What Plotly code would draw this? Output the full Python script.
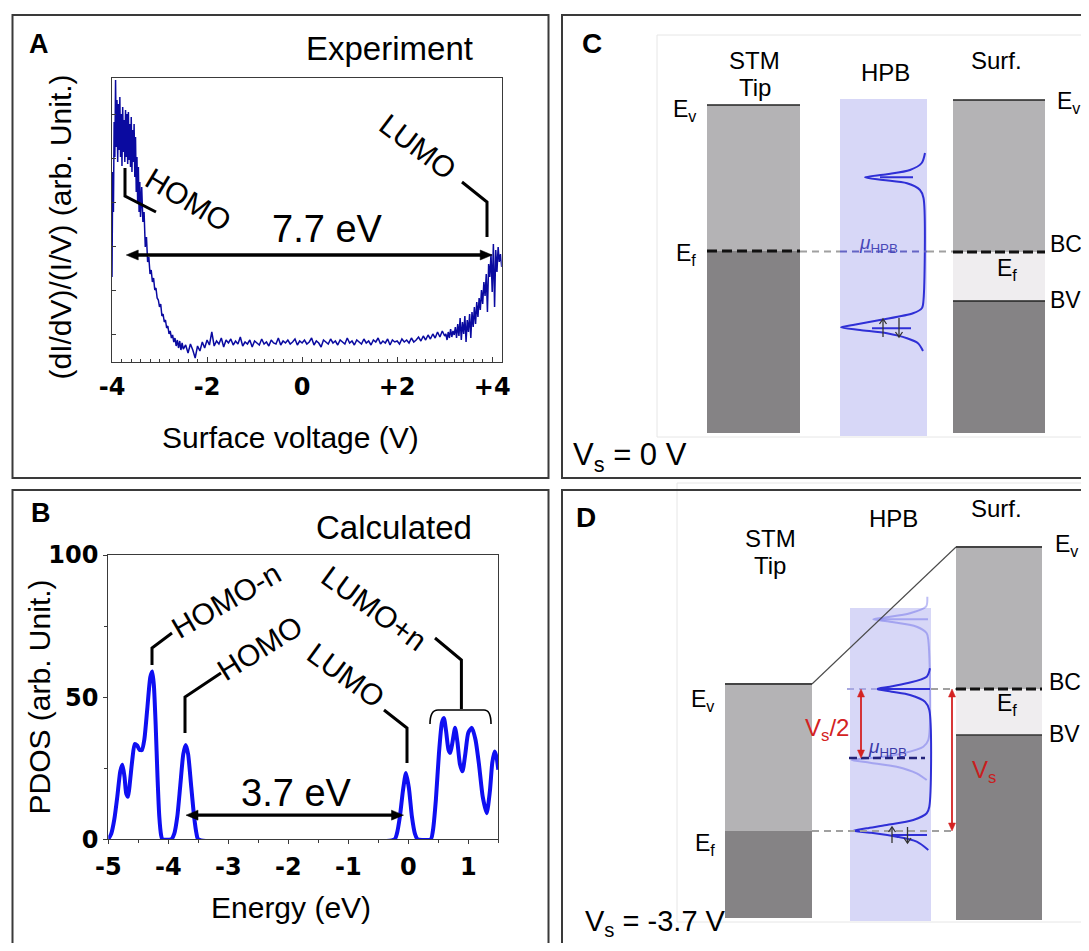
import plotly.graph_objects as go

FONT = "Liberation Sans, Arial, Helvetica, sans-serif"
TICKFONT = "DejaVu Sans, Verdana, sans-serif"
REF_W, REF_H = 1089, 951          # reference picture size (px)
OFF = 8                            # default page margin of the browser body
W, H = REF_W - 2 * OFF, REF_H - 2 * OFF   # figure size so that the page fits exactly

# ------------------------------------------------------------------ Panel A (experiment)
A_V1 = [-4.000, -3.985, -3.970, -3.955, -3.940, -3.925, -3.910, -3.895, -3.880, -3.865,
        -3.850, -3.835, -3.820, -3.805, -3.790, -3.775, -3.760, -3.745, -3.730, -3.715,
        -3.700, -3.685, -3.670, -3.655, -3.640, -3.625, -3.610, -3.595, -3.580, -3.565,
        -3.550, -3.535, -3.520, -3.505, -3.490, -3.475, -3.460, -3.445, -3.430, -3.415, -3.400]
A_H1 = [85, 190, 150, 240, 205, 282, 215, 262, 200, 258,
        212, 265, 205, 248, 196, 255, 210, 242, 200, 252,
        205, 248, 198, 250, 202, 238, 195, 245, 190, 232,
        200, 238, 185, 225, 170, 205, 160, 195, 150, 180, 145]
A_V2 = [-3.375, -3.350, -3.325, -3.300, -3.275, -3.250, -3.225, -3.200, -3.175, -3.150,
        -3.125, -3.100, -3.075, -3.050, -3.025, -3.000, -2.975, -2.950, -2.925, -2.900,
        -2.875, -2.850, -2.825, -2.800, -2.775, -2.750, -2.725, -2.700, -2.675, -2.650,
        -2.625, -2.600, -2.575, -2.550, -2.525, -2.500]
A_H2 = [175, 140, 150, 115, 125, 100, 105, 88, 92, 80,
        84, 72, 74, 64, 62, 55, 58, 46, 48, 40,
        42, 34, 36, 28, 31, 24, 27, 20, 24, 16,
        22, 14, 21, 12, 19, 13]
A_V3 = [-2.45, -2.40, -2.35, -2.30, -2.25, -2.20, -2.15, -2.10, -2.05, -2.00,
        -1.95, -1.90, -1.85, -1.80, -1.75, -1.70, -1.65, -1.60, -1.55, -1.50,
        -1.45, -1.40, -1.35, -1.30, -1.25, -1.20, -1.15, -1.10, -1.05, -1.00,
        -0.95, -0.90, -0.85, -0.80, -0.75, -0.70, -0.65, -0.60, -0.55, -0.50,
        -0.45, -0.40, -0.35, -0.30, -0.25, -0.20, -0.15, -0.10, -0.05, 0.00,
        0.05, 0.10, 0.15, 0.20, 0.25, 0.30, 0.35, 0.40, 0.45, 0.50,
        0.55, 0.60, 0.65, 0.70, 0.75, 0.80, 0.85, 0.90, 0.95, 1.00,
        1.05, 1.10, 1.15, 1.20, 1.25, 1.30, 1.35, 1.40, 1.45, 1.50,
        1.55, 1.60, 1.65, 1.70, 1.75, 1.80, 1.85, 1.90, 1.95, 2.00,
        2.05, 2.10, 2.15, 2.20, 2.25, 2.30, 2.35, 2.40, 2.45, 2.50,
        2.55, 2.60, 2.65, 2.70, 2.75, 2.80, 2.85, 2.90, 2.95, 3.00]
A_H3 = [17, 9, 18, 12, 4, 16, 11, 20, 14, 22,
        17, 30, 16, 21, 18, 24, 15, 22, 19, 23,
        17, 21, 18, 25, 16, 20, 18, 22, 15, 21,
        19, 17, 23, 18, 20, 16, 22, 19, 18, 24,
        17, 21, 19, 22, 18, 20, 23, 17, 21, 19,
        22, 18, 20, 24, 17, 21, 19, 15, 22, 20,
        18, 23, 19, 21, 17, 22, 20, 18, 24, 19,
        21, 17, 22, 20, 18, 23, 19, 21, 17, 22,
        20, 24, 18, 21, 19, 23, 17, 22, 20, 21,
        18, 23, 20, 22, 19, 24, 20, 22, 25, 21,
        26, 22, 27, 23, 28, 24, 30, 25, 31, 26]
A_V4 = [3.025, 3.050, 3.075, 3.100, 3.125, 3.150, 3.175, 3.200, 3.225, 3.250,
        3.275, 3.300, 3.325, 3.350, 3.375, 3.400, 3.425, 3.450, 3.475, 3.500,
        3.525, 3.550, 3.575, 3.600, 3.625, 3.650, 3.675, 3.700, 3.725, 3.750,
        3.775, 3.800, 3.825, 3.850, 3.875, 3.900, 3.925, 3.950, 3.975, 4.000,
        4.025, 4.050, 4.075, 4.100, 4.125, 4.150, 4.175, 4.200]
A_H4 = [28, 22, 30, 24, 33, 25, 31, 27, 35, 24,
        38, 26, 44, 22, 40, 28, 46, 20, 42, 30,
        48, 24, 50, 35, 55, 38, 60, 45, 64, 52,
        72, 58, 80, 66, 88, 50, 98, 85, 108, 70,
        118, 55, 112, 90, 115, 100, 108, 95]
A_V = A_V1 + A_V2 + A_V3 + A_V4
A_H = A_H1 + A_H2 + A_H3 + A_H4

A_XTICKS = [-4, -2, 0, 2, 4]
A_XTICKTEXT = ["-4", "-2", "0", "+2", "+4"]
A_YTICKS = [28, 72, 116, 160, 204, 248]
A_GAP = [-3.70, 4.00]
A_GAP_LEVEL = 107
A_GAP_LABEL = "7.7 eV"

# ------------------------------------------------------------------ Panel B (calculated PDOS)
B_E = [-5.00, -4.95, -4.90, -4.85, -4.80, -4.765, -4.73, -4.70, -4.67, -4.64,
       -4.60, -4.56, -4.52, -4.48, -4.44, -4.40, -4.35, -4.30, -4.267, -4.24,
       -4.21, -4.18, -4.15, -4.12, -4.10, -3.95, -3.90, -3.85, -3.80, -3.75,
       -3.71, -3.67, -3.62, -3.57, -3.53, -3.50, -0.23, -0.19, -0.14, -0.09,
       -0.04, 0.01, 0.06, 0.11, 0.155, 0.375, 0.41, 0.46, 0.51, 0.56,
       0.593, 0.63, 0.67, 0.70, 0.735, 0.78, 0.82, 0.86, 0.903, 0.95,
       1.00, 1.06, 1.12, 1.18, 1.24, 1.307, 1.36, 1.40, 1.44, 1.47, 1.50]
B_P = [0, 2, 7, 15, 24, 26.2, 22, 16, 15, 20,
       28, 33.5, 33, 31.5, 31.4, 35, 46, 57, 59, 54,
       40, 22, 8, 1.5, 0, 0, 2, 8, 19, 30,
       33.2, 30, 19, 8, 2, 0, 0, 2, 8, 17,
       23.3, 18, 8, 2, 0, 0, 3, 14, 30, 41,
       42.7, 38, 31.5, 30.4, 34, 39.2, 34, 26.5, 23.9, 30,
       37.5, 39.2, 35, 26, 15, 9.2, 17, 27, 30.9, 29, 24.5]
B_XTICKS = [-5, -4, -3, -2, -1, 0, 1]
B_YTICKS = [0, 50, 100]
B_GAP = [-3.705, -0.08]
B_GAP_LEVEL = 8.5
B_GAP_LABEL = "3.7 eV"

# ------------------------------------------------------------------ Panels C / D (schematic, px units)
C_TIP_X = [707, 800];  C_TIP_LEV = [105, 251, 433]            # Ev, Ef, bottom
C_HPB_X = [840, 927];  C_HPB_Y = [99, 436]
C_SURF_X = [953, 1045]; C_SURF_LEV = [100, 252, 301, 433]     # Ev, BC, BV, bottom
C_CURVE_X = [925, 921.7, 910, 887, 865, 883, 907, 920, 923.5, 923.5,
             922, 913, 880, 853, 841, 860, 887, 907, 918, 923]
C_CURVE_Y = [153, 163, 170, 174.3, 177.3, 180, 183.3, 190, 198, 300,
             308, 313.3, 320, 325, 327.3, 330, 333.3, 338.3, 343.3, 351]

D_TIP_X = [725, 812];  D_TIP_LEV = [684, 831, 918]
D_HPB_X = [850, 931];  D_HPB_Y = [608, 921]
D_SURF_X = [956, 1042]; D_SURF_LEV = [547, 689, 735, 920]
D_MU_LEVEL = 758
D_CURVE_X = [930, 926.7, 906.7, 890, 876.7, 891.7, 910, 925, 929.3, 929.3,
             926.7, 913.3, 886.7, 866.7, 853.3, 870, 896.7, 916.7, 928.3]
D_CURVE_Y = [668.3, 676.7, 683.3, 686.7, 689, 691.7, 695, 701.7, 710, 806.7,
             813.3, 820, 825, 828.3, 830.7, 832.7, 836.7, 841.7, 850]
D_FAINT_X = [927.3, 926, 910, 886.7, 873.3, 890, 916.7, 926.7, 928.3, 928.3,
             923.3, 903.3, 880, 851.7, 870, 896.7, 916.7, 926.7]
D_FAINT_Y = [596.7, 606.7, 613.3, 617.3, 619.3, 621.7, 626.7, 633.3, 640, 740,
             746.7, 753.3, 757.3, 760, 762.7, 766.7, 773.3, 780]

# ------------------------------------------------------------------ geometry of the two plots (reference px)
A_PX = (112.0, 501.7); A_PY = (78.0, 362.0); A_XR = [-4.0, 4.2]; A_YR = [0, 284]
B_PX = (108.3, 498.3); B_PY = (555.0, 839.3); B_XR = [-5.0, 1.5]; B_YR = [0, 100]


def domx(p):
    return [(p[0] - OFF) / W, (p[1] - OFF) / W]


def domy(p):
    return [1 - (p[1] - OFF) / H, 1 - (p[0] - OFF) / H]


A_PXPERV = (A_PX[1] - A_PX[0]) / (A_XR[1] - A_XR[0])
A_PXPERH = (A_PY[1] - A_PY[0]) / (A_YR[1] - A_YR[0])
B_PXPERV = (B_PX[1] - B_PX[0]) / (B_XR[1] - B_XR[0])
B_PXPERH = (B_PY[1] - B_PY[0]) / (B_YR[1] - B_YR[0])

LIGHT = "#b4b3b5"
DARK = "#858385"
GAP = "#efedef"
COLUMN = "#d7d7f7"
CURVE = "#2f2fd6"
RED = "#d42222"
BORDER = "#3a3a3a"

shapes = []
ann = []


def rect(x0, y0, x1, y1, fill, layer="below", lw=0, lc=None, xref="x3", yref="y3"):
    shapes.append(dict(type="rect", xref=xref, yref=yref, x0=x0, y0=y0, x1=x1, y1=y1,
                       fillcolor=fill, line=dict(width=lw, color=lc or fill), layer=layer))


def seg(x0, y0, x1, y1, color="black", width=1.5, dash="solid", layer="above", xref="x3", yref="y3"):
    shapes.append(dict(type="line", xref=xref, yref=yref, x0=x0, y0=y0, x1=x1, y1=y1,
                       line=dict(color=color, width=width, dash=dash), layer=layer))


def path(d, color="black", width=1.5, fill=None, layer="above", xref="x3", yref="y3"):
    s = dict(type="path", xref=xref, yref=yref, path=d, line=dict(color=color, width=width), layer=layer)
    if fill:
        s["fillcolor"] = fill
    shapes.append(s)


def harrow(xref, yref, x0, x1, y, hl, hw, color="black", width=3.3):
    seg(x0 + hl * 0.7, y, x1 - hl * 0.7, y, color, width, xref=xref, yref=yref)
    path(f"M {x0},{y} L {x0 + hl},{y + hw} L {x0 + hl},{y - hw} Z", color, 0.5, color, xref=xref, yref=yref)
    path(f"M {x1},{y} L {x1 - hl},{y + hw} L {x1 - hl},{y - hw} Z", color, 0.5, color, xref=xref, yref=yref)


def varrow(x, y0, y1, hl=8, hw=3.5, color=RED, width=1.8):
    seg(x, y0 + hl * 0.7, x, y1 - hl * 0.7, color, width)
    path(f"M {x},{y0} L {x - hw},{y0 + hl} L {x + hw},{y0 + hl} Z", color, 0.5, color)
    path(f"M {x},{y1} L {x - hw},{y1 - hl} L {x + hw},{y1 - hl} Z", color, 0.5, color)


def spin(x, y_top, y_bot, up=True, color="#333333"):
    seg(x, y_top, x, y_bot, color, 1.3)
    if up:
        path(f"M {x - 3.5},{y_top + 5} L {x},{y_top} L {x + 3.5},{y_top + 5}", color, 1.3)
    else:
        path(f"M {x - 3.5},{y_bot - 5} L {x},{y_bot} L {x + 3.5},{y_bot - 5}", color, 1.3)


def text(x, y, s, size, color="black", angle=0, xa="center", ya="middle", bold=False, family=FONT):
    ann.append(dict(x=x, y=y, xref="x3", yref="y3", text=s, showarrow=False,
                    font=dict(family=family, size=size, color=color, weight="bold" if bold else "normal"),
                    textangle=angle, xanchor=xa, yanchor=ya))


fig = go.Figure()

# ---- data traces
fig.add_trace(go.Scatter(x=A_V, y=A_H, mode="lines", line=dict(color="#0a0aa0", width=1.5),
                         xaxis="x", yaxis="y", hoverinfo="skip", showlegend=False))
fig.add_trace(go.Scatter(x=B_E, y=B_P, mode="lines", cliponaxis=False,
                         line=dict(color="#0f0ff2", width=4, shape="spline", smoothing=0.6),
                         xaxis="x2", yaxis="y2", hoverinfo="skip", showlegend=False))

# ---- panel C schematic
rect(657, 35, 1100, 437, "rgba(0,0,0,0)", lw=1, lc="#e6e6e6")
rect(C_TIP_X[0], C_TIP_LEV[0], C_TIP_X[1], C_TIP_LEV[1], LIGHT)
rect(C_TIP_X[0], C_TIP_LEV[1], C_TIP_X[1], C_TIP_LEV[2], DARK)
rect(C_HPB_X[0], C_HPB_Y[0], C_HPB_X[1], C_HPB_Y[1], COLUMN)
rect(C_SURF_X[0], C_SURF_LEV[0], C_SURF_X[1], C_SURF_LEV[1], LIGHT)
rect(C_SURF_X[0], C_SURF_LEV[1], C_SURF_X[1], C_SURF_LEV[2], GAP)
rect(C_SURF_X[0], C_SURF_LEV[2], C_SURF_X[1], C_SURF_LEV[3], DARK)
seg(C_TIP_X[0], C_TIP_LEV[0], C_TIP_X[1], C_TIP_LEV[0], "#222", 1.6)
seg(C_SURF_X[0], C_SURF_LEV[0], C_SURF_X[1], C_SURF_LEV[0], "#222", 1.6)
seg(C_SURF_X[0], C_SURF_LEV[2], C_SURF_X[1], C_SURF_LEV[2], "#222", 1.3)
seg(C_TIP_X[0], C_TIP_LEV[1], C_TIP_X[1], C_TIP_LEV[1], "#111", 3, "10px,5px")
seg(C_SURF_X[0], C_SURF_LEV[1], C_SURF_X[1], C_SURF_LEV[1], "#111", 3, "10px,4px")
seg(C_TIP_X[1], 251.5, C_HPB_X[0], 251.5, "#a0a0a0", 2, "7px,5px")
seg(C_HPB_X[0], 251.5, C_HPB_X[1], 251.5, "#6464c4", 2, "7px,5px")
seg(C_HPB_X[1], 251.5, C_SURF_X[0], 251.5, "#a0a0a0", 2, "7px,5px")
seg(880, 177.3, 913, 177.3, CURVE, 2)
seg(872, 328.3, 911, 328.3, CURVE, 2)
spin(883, 319, 337, up=True)
spin(899, 318, 337, up=False)
fig.add_trace(go.Scatter(x=C_CURVE_X, y=C_CURVE_Y, mode="lines",
                         line=dict(color=CURVE, width=2, shape="spline", smoothing=0.8),
                         xaxis="x3", yaxis="y3", hoverinfo="skip", showlegend=False))

# ---- panel D schematic
rect(677, 483, 1100, 922, "rgba(0,0,0,0)", lw=1, lc="#e6e6e6")
rect(D_TIP_X[0], D_TIP_LEV[0], D_TIP_X[1], D_TIP_LEV[1], LIGHT)
rect(D_TIP_X[0], D_TIP_LEV[1], D_TIP_X[1], D_TIP_LEV[2], DARK)
rect(D_HPB_X[0], D_HPB_Y[0], D_HPB_X[1], D_HPB_Y[1], COLUMN)
rect(D_SURF_X[0], D_SURF_LEV[0], D_SURF_X[1], D_SURF_LEV[1], LIGHT)
rect(D_SURF_X[0], D_SURF_LEV[1], D_SURF_X[1], D_SURF_LEV[2], GAP)
rect(D_SURF_X[0], D_SURF_LEV[2], D_SURF_X[1], D_SURF_LEV[3], DARK)
seg(D_TIP_X[0], D_TIP_LEV[0], D_TIP_X[1], D_TIP_LEV[0], "#444", 1.8)
seg(D_SURF_X[0], D_SURF_LEV[0], D_SURF_X[1], D_SURF_LEV[0], "#444", 1.8)
seg(D_SURF_X[0], D_SURF_LEV[2], D_SURF_X[1], D_SURF_LEV[2], "#333", 1.3)
seg(D_TIP_X[1], D_TIP_LEV[0], D_SURF_X[0], D_SURF_LEV[0], "#4a4a4a", 1.1)
seg(D_SURF_X[0], D_SURF_LEV[1], D_SURF_X[1], D_SURF_LEV[1], "#111", 3, "10px,4px")
seg(847, 689, D_HPB_X[1], 689, "#a8a8e0", 2, "7px,5px")
seg(D_HPB_X[1], 689, D_SURF_X[0], 689, "#a0a0a0", 2, "7px,5px")
seg(D_TIP_X[1], 831, D_SURF_X[0], 831, "#a0a0a0", 2, "7px,5px")
seg(849, D_MU_LEVEL, 925, D_MU_LEVEL, "#23237a", 2.6, "8px,4px")
seg(880, 619.3, 928, 619.3, "rgba(70,70,225,0.35)", 2)
seg(877, 689, 930, 689, CURVE, 2)
seg(892, 835, 927, 835, CURVE, 2)
spin(892, 827, 843, up=True)
spin(907.5, 827, 843, up=False)
varrow(861, 689, D_MU_LEVEL)
varrow(952, 689, 831)
fig.add_trace(go.Scatter(x=D_FAINT_X, y=D_FAINT_Y, mode="lines",
                         line=dict(color="rgba(70,70,225,0.35)", width=2, shape="spline", smoothing=0.8),
                         xaxis="x3", yaxis="y3", hoverinfo="skip", showlegend=False))
fig.add_trace(go.Scatter(x=D_CURVE_X, y=D_CURVE_Y, mode="lines",
                         line=dict(color=CURVE, width=2, shape="spline", smoothing=0.8),
                         xaxis="x3", yaxis="y3", hoverinfo="skip", showlegend=False))

# ---- panel A decorations
harrow("x", "y", A_GAP[0], A_GAP[1], A_GAP_LEVEL, 12 / A_PXPERV, 5 / A_PXPERH, "black", 3.3)
path("M 125,168 L 125,196 L 156,212", "black", 3)
path("M 462,182 L 487,202 L 487,237", "black", 3)
text(38.6, 44, "A", 27, bold=True)
text(389, 48, "Experiment", 33)
text(60, 227.5, "(dI/dV)/(I/V) (arb. Unit.)", 30, angle=-90)
text(290, 437, "Surface voltage (V)", 30)
text(188, 199, "HOMO", 30, angle=31)
text(418, 146, "LUMO", 30, angle=37)
text(327, 229, A_GAP_LABEL, 38)

# ---- panel B decorations
harrow("x2", "y2", B_GAP[0], B_GAP[1], B_GAP_LEVEL, 12 / B_PXPERV, 5 / B_PXPERH, "black", 3.3)
path("M 152,665 L 152,648 L 172,633", "black", 3)
path("M 185,733 L 185,697 L 221,673", "black", 3)
path("M 384,710 L 407,728 L 407,763", "black", 3)
path("M 435,638 L 461.4,660 L 461.4,709", "black", 3)
path("M 430,724 Q 430,710 438,710 L 484,710 Q 491,710 491,724", "black", 1.6)
text(41.4, 513, "B", 27, bold=True)
text(394, 527, "Calculated", 33)
text(38.5, 697, "PDOS (arb. Unit.)", 30, angle=-90)
text(291, 907, "Energy (eV)", 30)
text(226, 600, "HOMO-n", 30, angle=-30)
text(259, 648, "HOMO", 30, angle=-32)
text(346.5, 675, "LUMO", 30, angle=36)
text(374.6, 608, "LUMO+n", 30, angle=36)
text(296, 793, B_GAP_LABEL, 38)

# ---- panel C labels
text(592, 43, "C", 28, bold=True)
text(754.5, 60, "STM", 24)
text(754.5, 87, "Tip", 24)
text(885, 72, "HPB", 24)
text(996, 60, "Surf.", 24)
text(698, 110, "E<sub>v</sub>", 23, xa="right")
text(698, 254, "E<sub>f</sub>", 23, xa="right")
text(1055, 102, "E<sub>v</sub>", 23, xa="left")
text(1048, 244, "BC", 23, xa="left")
text(1048, 300, "BV", 23, xa="left")
text(1007, 269, "E<sub>f</sub>", 23)
text(878, 244, "<i>μ</i><sub>HPB</sub>", 19, color="#4848b8")
text(571, 457, "V<sub>s</sub> = 0 V", 31, xa="left")

# ---- panel D labels
text(586, 517, "D", 28, bold=True)
text(770, 538, "STM", 24)
text(770, 565, "Tip", 24)
text(893, 518, "HPB", 24)
text(996, 508, "Surf.", 24)
text(716, 700, "E<sub>v</sub>", 23, xa="right")
text(717, 844, "E<sub>f</sub>", 23, xa="right")
text(1053, 545, "E<sub>v</sub>", 23, xa="left")
text(1047, 682, "BC", 23, xa="left")
text(1047, 734, "BV", 23, xa="left")
text(1006.5, 704, "E<sub>f</sub>", 23)
text(887.7, 748, "<i>μ</i><sub>HPB</sub>", 19, color="#3a3aa8")
text(826.5, 729, "V<sub>s</sub>/2", 24, color=RED)
text(984, 771, "V<sub>s</sub>", 24, color="#c81e1e")
text(583, 923, "V<sub>s</sub> = -3.7 V", 29, xa="left")

# ---- panel borders
for (x0, y0, x1, y1) in [(12.5, 15, 548.5, 478), (12.5, 490, 548.5, 970), (562, 15, 1100, 478), (562, 490, 1100, 970)]:
    rect(x0, y0, x1, y1, "rgba(0,0,0,0)", layer="above", lw=2, lc=BORDER)

axis_line = dict(showline=True, linecolor=BORDER, linewidth=1.2, mirror=True, showgrid=False,
                 zeroline=False, fixedrange=True, tickcolor=BORDER, tickwidth=1.2, automargin=False)
tickfont = dict(family=TICKFONT, size=24, color="black", weight="bold")

fig.update_layout(
    width=W, height=H, margin=dict(l=0, r=0, t=0, b=0, pad=0, autoexpand=False),
    paper_bgcolor="white", plot_bgcolor="rgba(0,0,0,0)",
    showlegend=False, hovermode=False,
    font=dict(family=FONT, color="black"),
    xaxis=dict(domain=domx(A_PX), range=A_XR, anchor="y", ticks="inside", ticklen=5,
               tickvals=A_XTICKS, ticktext=A_XTICKTEXT, tickfont=tickfont, ticklabelstandoff=3,
               minor=dict(dtick=0.2, tick0=0, ticks="inside", ticklen=2.5, tickcolor=BORDER, showgrid=False),
               **axis_line),
    yaxis=dict(domain=domy(A_PY), range=A_YR, anchor="x", ticks="inside", ticklen=4,
               tickvals=A_YTICKS, showticklabels=False, **axis_line),
    xaxis2=dict(domain=domx(B_PX), range=B_XR, anchor="y2", ticks="outside", ticklen=4,
                tickvals=B_XTICKS, ticktext=[str(v) for v in B_XTICKS], tickfont=tickfont,
                ticklabelstandoff=2,
                minor=dict(dtick=0.5, tick0=0, ticks="outside", ticklen=3, tickcolor=BORDER, showgrid=False),
                **axis_line),
    yaxis2=dict(domain=domy(B_PY), range=B_YR, anchor="x2", ticks="outside", ticklen=4,
                tickvals=B_YTICKS, ticktext=[str(v) for v in B_YTICKS], tickfont=tickfont,
                ticklabelstandoff=0,
                minor=dict(dtick=25, tick0=0, ticks="outside", ticklen=3, tickcolor=BORDER, showgrid=False),
                **axis_line),
    xaxis3=dict(domain=[0, 1], range=[OFF, OFF + W], anchor="y3", visible=False, fixedrange=True, automargin=False),
    yaxis3=dict(domain=[0, 1], range=[OFF + H, OFF], anchor="x3", visible=False, fixedrange=True, automargin=False),
    shapes=shapes, annotations=ann,
)

fig.write_html("out.html", include_plotlyjs=True, full_html=True,
               config=dict(displayModeBar=False))
